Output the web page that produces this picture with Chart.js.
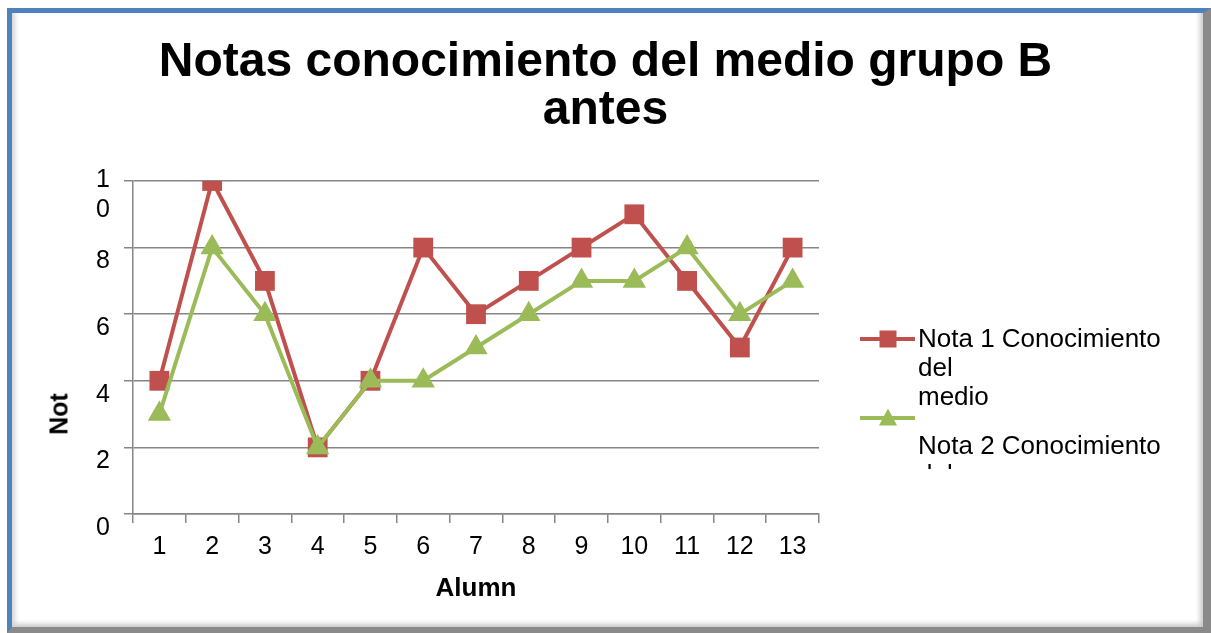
<!DOCTYPE html>
<html>
<head>
<meta charset="utf-8">
<script src="https://cdn.jsdelivr.net/npm/chart.js@4.4.1/dist/chart.umd.min.js"></script>
<style>
  html, body { margin: 0; padding: 0; background: #fff; }
  body { width: 1211px; height: 633px; position: relative; overflow: hidden; font-family: "Liberation Sans", Arial, sans-serif; }
  #frame {
    position: absolute; left: 7px; top: 8px; right: 0; bottom: 0;
    border-top: 5px solid #4f81bd; border-left: 5px solid #4f81bd;
    border-right: 8px solid #8a8a8a; border-bottom: 6px solid #8a8a8a;
    box-shadow: inset 6px 0 5px -3px #d4d4d4, inset -6px -6px 5px -3px #c8c8c8;
  }
  #wrap { position: absolute; left: 0; top: 0; width: 1211px; height: 633px; }
  #ytitle {
    position: absolute; left: 59px; top: 414px; transform: translate(-50%, -50%) rotate(-90deg);
    font-weight: bold; font-size: 25px; color: #000; white-space: nowrap;
  }
  #legend {
    position: absolute; left: 860px; top: 324px; width: 340px; height: 145px; overflow: hidden;
    font-size: 26px; line-height: 29px; color: #000;
  }
  .item { position: relative; padding-left: 58px; white-space: nowrap; }
  .sample { position: absolute; left: 0; width: 55px; height: 4px; }
  .mark { position: absolute; left: 50%; top: 50%; transform: translate(-50%, -50%); }
</style>
</head>
<body>
<div id="frame"></div>
<div id="wrap"><canvas id="chart"></canvas></div>
<div id="ytitle">Not</div>
<div id="legend"></div>
<script>
// Alumnos (eje X) y notas de cada serie
const categories = ['1', '2', '3', '4', '5', '6', '7', '8', '9', '10', '11', '12', '13'];
const nota1 = [4, 10, 7, 2, 4, 8, 6, 7, 8, 9, 7, 5, 8];
const nota2 = [3, 8, 6, 2, 4, 4, 5, 6, 7, 7, 8, 6, 7];
const yTicks = [0, 2, 4, 6, 8, 10];
const seriesLabels = ['Nota 1 Conocimiento del medio', 'Nota 2 Conocimiento del medio'];

const RED = '#c0504d';
const GREEN = '#9bbb59';
const GRID = '#868686';
const FONT = '"Liberation Sans", Arial, sans-serif';

const ctx = document.getElementById('chart').getContext('2d');
new Chart(ctx, {
  type: 'line',
  data: {
    labels: categories,
    datasets: [{
      label: seriesLabels[0],
      data: nota1,
      borderColor: RED,
      backgroundColor: RED,
      borderWidth: 4,
      pointStyle: 'rect',
      pointRadius: 14,
      pointBorderWidth: 0,
      tension: 0,
      order: 2
    }, {
      label: seriesLabels[1],
      data: nota2,
      borderColor: GREEN,
      backgroundColor: GREEN,
      borderWidth: 4,
      pointStyle: 'triangle',
      pointRadius: 13.5,
      pointBorderWidth: 0,
      tension: 0,
      order: 1
    }]
  },
  options: {
    responsive: true,
    maintainAspectRatio: false,
    animation: false,
    layout: { padding: 0 },
    plugins: {
      legend: { display: false },
      tooltip: { enabled: false },
      title: {
        display: true,
        text: ['Notas conocimiento del medio grupo B', 'antes'],
        color: '#000',
        font: { family: FONT, size: 48, weight: 'bold', lineHeight: 1.0 },
        padding: { top: 39, bottom: 46 }
      }
    },
    scales: {
      x: {
        offset: true,
        grid: { offset: true, drawOnChartArea: false, drawTicks: true, tickLength: 9, color: GRID, lineWidth: 1.5 },
        border: { color: GRID, width: 1.5 },
        ticks: { color: '#000', font: { family: FONT, size: 25 }, padding: 9, maxRotation: 0, autoSkip: false },
        title: {
          display: true, text: 'Alumn', color: '#000',
          font: { family: FONT, size: 26, weight: 'bold' },
          padding: { top: 0, bottom: 29 }
        },
        afterFit: s => { s.height = 119; }
      },
      y: {
        min: 0,
        max: 10,
        afterBuildTicks: s => { s.ticks = yTicks.map(v => ({ value: v })); },
        ticks: {
          color: '#000', font: { family: FONT, size: 25 }, padding: 14, labelOffset: 14,
          callback: v => String(v).split('')
        },
        grid: { color: GRID, lineWidth: 1.5, tickLength: 9 },
        border: { color: GRID, width: 1.5 },
        afterFit: s => { s.width = 133; }
      },
      right: {
        type: 'linear',
        position: 'right',
        grid: { display: false },
        ticks: { display: false },
        border: { display: false },
        afterFit: s => { s.width = 392; }
      }
    }
  }
});

// Leyenda como en la hoja de cálculo original
const legend = document.getElementById('legend');
const marks = [
  '<div class="mark" style="width:17px;height:17px;background:' + RED + '"></div>',
  '<div class="mark" style="width:0;height:0;border-left:9px solid transparent;border-right:9px solid transparent;border-bottom:17px solid ' + GREEN + ';top:20%"></div>'
];
const colors = [RED, GREEN];
seriesLabels.forEach((label, i) => {
  const words = label.split(' ');
  const lines = [words.slice(0, 3).join(' ')].concat(words.slice(3));
  const item = document.createElement('div');
  item.className = 'item';
  if (i === 0) {
    item.innerHTML = '<div class="sample" style="top:13px;background:' + colors[i] + '">' + marks[i] + '</div>' + lines.join('<br>');
  } else {
    item.style.paddingTop = '20px';
    item.innerHTML = '<div class="sample" style="top:5px;background:' + colors[i] + '">' + marks[i] + '</div>' + lines.join('<br>');
  }
  legend.appendChild(item);
});
</script>
</body>
</html>
